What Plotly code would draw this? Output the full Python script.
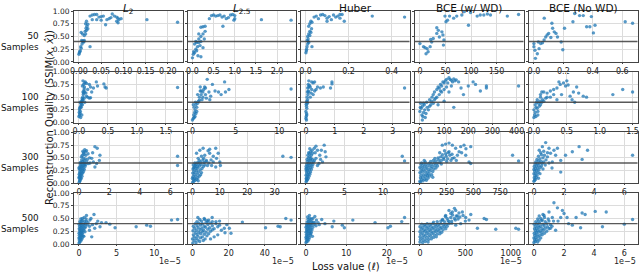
import plotly.graph_objects as go

COLUMNS = ["<i>L</i><sub>2</sub>", "<i>L</i><sub>2.5</sub>", "Huber", "BCE (w/ WD)", "BCE (No WD)"]
ROWS = ["50", "100", "300", "500"]
Y_TICKS = [0, 0.25, 0.5, 0.75, 1.0]
Y_TICKTEXT = ["0.00", "0.25", "0.50", "0.75", "1.00"]
THRESHOLD = 0.4

# ---------------- 50 samples ----------------
L2_50 = [(0.000,0.15),(0.001,0.18),(0.002,0.20),(0.003,0.22),(0.005,0.27),(0.004,0.30),(0.007,0.35),(0.008,0.40),
         (0.009,0.41),(0.010,0.40),(0.012,0.42),(0.006,0.42),(0.011,0.39),(0.005,0.58),(0.008,0.55),(0.012,0.52),
         (0.015,0.55),(0.014,0.60),(0.017,0.62),(0.016,0.66),(0.018,0.70),(0.020,0.65),(0.015,0.75),(0.017,0.80),
         (0.025,0.30),(0.020,0.74),(0.025,0.90),(0.030,0.92),(0.035,0.93),(0.040,0.93),(0.030,0.83),(0.040,0.83),
         (0.045,0.88),(0.050,0.89),(0.055,0.90),(0.050,0.82),(0.060,0.73),(0.063,0.83),(0.068,0.85),(0.072,0.87),
         (0.075,0.94),(0.080,0.90),(0.085,0.88),(0.088,0.86),(0.090,0.83),(0.085,0.80),(0.095,0.85),(0.088,0.77),
         (0.153,0.83),(0.222,0.78)]
L25_50 = [(0.00,0.08),(0.02,0.15),(0.03,0.20),(0.05,0.18),(0.08,0.25),(0.10,0.22),(0.12,0.30),(0.05,0.35),
          (0.10,0.38),(0.15,0.38),(0.20,0.40),(0.08,0.40),(0.18,0.32),(0.25,0.28),(0.20,0.10),(0.13,0.12),
          (0.15,0.55),(0.20,0.50),(0.25,0.55),(0.30,0.60),(0.20,0.68),(0.25,0.69),(0.30,0.70),(0.15,0.45),
          (0.28,0.45),(0.40,0.85),(0.45,0.91),(0.55,0.90),(0.60,0.91),(0.65,0.92),(0.70,0.88),(0.75,0.90),
          (0.80,0.85),(0.85,0.87),(0.90,0.92),(0.95,0.93),(1.00,0.91),(1.00,0.85),(0.98,0.82),(0.72,0.70),
          (1.63,0.83),(2.33,0.82),(0.50,0.92)]
HUBER_50 = [(0.002,0.18),(0.004,0.22),(0.005,0.25),(0.007,0.30),(0.010,0.35),(0.012,0.40),(0.015,0.38),(0.008,0.42),
            (0.010,0.50),(0.015,0.55),(0.020,0.60),(0.025,0.58),(0.020,0.52),(0.030,0.30),(0.015,0.70),(0.020,0.75),
            (0.025,0.80),(0.030,0.78),(0.028,0.65),(0.012,0.45),(0.040,0.88),(0.050,0.90),(0.060,0.85),(0.070,0.92),
            (0.080,0.93),(0.090,0.91),(0.100,0.86),(0.110,0.89),(0.120,0.83),(0.130,0.92),(0.140,0.88),(0.150,0.90),
            (0.160,0.93),(0.170,0.93),(0.180,0.80),(0.100,0.80),(0.310,0.90),(0.460,0.88),(0.160,0.86)]
BCEWD_50 = [(0,0.36),(7,0.30),(14,0.26),(12,0.16),(16,0.20),(20,0.30),(10,0.28),(23,0.39),(21,0.44),(26,0.46),
            (33,0.56),(36,0.62),(33,0.67),(43,0.59),(45,0.53),(46,0.33),(47,0.43),(38,0.49),(51,0.79),(54,0.82),
            (49,0.90),(58,0.90),(66,0.86),(72,0.90),(82,0.92),(87,0.99),(95,0.72),(99,0.97),(112,0.90),(118,0.92),
            (125,0.92),(132,0.94),(138,0.92),(171,0.90),(193,0.93)]
BCENO_50 = [(0.000,0.36),(0.000,0.30),(0.007,0.23),(0.023,0.16),(0.010,0.07),(0.035,0.26),(0.046,0.36),(0.030,0.39),
            (0.058,0.375),(0.069,0.43),(0.080,0.49),(0.090,0.53),(0.100,0.56),(0.115,0.48),(0.127,0.66),(0.138,0.59),
            (0.150,0.56),(0.160,0.49),(0.070,0.86),(0.122,0.76),(0.185,0.39),(0.196,0.24),(0.208,0.66),(0.265,0.79),
            (0.277,0.95),(0.310,0.91),(0.335,0.91),(0.390,0.89),(0.358,0.69),(0.380,0.69),(0.415,0.72),(0.404,0.57),
            (0.620,0.79),(0.670,0.76)]

# ---------------- 100 samples ----------------
L2_100 = [(0.00,0.12),(0.01,0.15),(0.005,0.20),(0.02,0.18),(0.01,0.25),(0.015,0.28),(0.02,0.30),(0.03,0.32),
          (0.025,0.22),(0.04,0.35),(0.035,0.38),(0.045,0.40),(0.05,0.42),(0.06,0.44),(0.055,0.47),(0.065,0.50),
          (0.07,0.45),(0.075,0.55),(0.08,0.58),(0.07,0.60),(0.085,0.62),(0.09,0.66),(0.095,0.70),(0.06,0.72),
          (0.07,0.82),(0.10,0.78),(0.11,0.80),(0.13,0.77),(0.08,0.75),(0.10,0.60),(0.12,0.58),(0.15,0.50),
          (0.18,0.48),(0.20,0.49),(0.13,0.52),(0.09,0.48),(0.05,0.15),(0.03,0.10),(0.04,0.30),(0.06,0.35),
          (0.02,0.40),(0.10,0.40),(0.15,0.65),(0.20,0.70),(0.25,0.68),(0.30,0.80),(0.32,0.72),(0.43,0.76),
          (0.45,0.70),(0.47,0.68),(1.70,0.69),(0.22,0.60),(0.18,0.75)]
L25_100 = [(0.0,0.05),(0.1,0.08),(0.2,0.10),(0.15,0.15),(0.3,0.12),(0.25,0.20),(0.4,0.18),(0.3,0.25),(0.5,0.30),
           (0.4,0.35),(0.6,0.38),(0.2,0.30),(0.5,0.22),(0.7,0.42),(0.1,0.35),(0.35,0.40),(0.8,0.44),(0.8,0.50),
           (1.0,0.55),(1.2,0.60),(1.0,0.62),(1.3,0.65),(0.9,0.70),(1.5,0.55),(1.6,0.48),(1.1,0.45),(1.4,0.70),
           (1.7,0.85),(1.9,0.60),(2.1,0.52),(2.3,0.75),(2.6,0.62),(3.0,0.60),(3.3,0.55),(3.7,0.80),(3.8,0.60),
           (4.2,0.65),(0.6,0.55),(1.2,0.50),(0.9,0.62),(11.35,0.66),(2.0,0.45),(1.5,0.68)]
HUBER_100 = [(0.00,0.08),(0.01,0.12),(0.02,0.18),(0.00,0.22),(0.03,0.28),(0.02,0.32),(0.01,0.36),(0.04,0.40),
             (0.05,0.38),(0.03,0.42),(0.06,0.45),(0.04,0.50),(0.07,0.55),(0.05,0.60),(0.08,0.62),(0.06,0.68),
             (0.10,0.70),(0.08,0.75),(0.12,0.73),(0.15,0.70),(0.10,0.82),(0.20,0.80),(0.25,0.78),(0.30,0.80),
             (0.20,0.65),(0.30,0.62),(0.25,0.55),(0.35,0.65),(0.40,0.70),(0.15,0.50),(0.50,0.68),(0.60,0.70),
             (0.85,0.68),(0.90,0.80),(0.90,0.76),(0.02,0.05),(0.03,0.15),(0.10,0.60),(0.18,0.58),(3.41,0.68)]
BCEWD_100 = [(0,0.22),(5,0.28),(10,0.32),(15,0.20),(20,0.25),(8,0.15),(12,0.12),(25,0.18),(18,0.35),(30,0.30),
             (22,0.10),(3,0.38),(28,0.40),(35,0.25),(40,0.32),(15,0.38),(2,0.30),(10,0.05),(40,0.45),(50,0.50),
             (55,0.55),(60,0.60),(48,0.42),(65,0.48),(70,0.65),(75,0.70),(80,0.68),(85,0.75),(90,0.72),(95,0.80),
             (100,0.78),(105,0.82),(110,0.85),(115,0.78),(120,0.88),(125,0.85),(130,0.83),(135,0.80),(140,0.86),
             (145,0.82),(150,0.84),(160,0.80),(80,0.55),(90,0.60),(100,0.65),(60,0.45),(70,0.50),(110,0.70),
             (120,0.60),(130,0.72),(75,0.35),(100,0.42),(140,0.30),(170,0.68),(180,0.55),(200,0.72),(230,0.75),
             (250,0.62),(275,0.68),(275,0.72),(220,0.80),(408,0.72),(55,0.38),(45,0.35),(85,0.62)]
BCENO_100 = [(0.00,0.10),(0.01,0.15),(0.02,0.20),(0.00,0.25),(0.03,0.30),(0.02,0.35),(0.04,0.40),(0.05,0.28),
             (0.06,0.22),(0.07,0.38),(0.05,0.45),(0.08,0.32),(0.10,0.35),(0.09,0.42),(0.12,0.40),(0.10,0.50),
             (0.13,0.45),(0.15,0.42),(0.18,0.48),(0.20,0.50),(0.03,0.12),(0.06,0.15),(0.10,0.55),(0.12,0.60),
             (0.15,0.60),(0.20,0.58),(0.25,0.62),(0.30,0.65),(0.35,0.68),(0.40,0.75),(0.38,0.80),(0.45,0.78),
             (0.48,0.72),(0.50,0.82),(0.52,0.74),(0.42,0.55),(0.60,0.60),(0.58,0.45),(0.62,0.40),(0.68,0.58),
             (0.75,0.52),(0.80,0.50),(0.65,0.70),(0.55,0.52),(0.30,0.55),(0.35,0.45),(0.25,0.50),(1.20,0.55),
             (1.35,0.65),(1.50,0.60)]

# ---------------- 300 samples ----------------
L2_300 = [(0.02,0.02),(0.05,0.05),(0.10,0.08),(0.03,0.10),(0.08,0.12),(0.15,0.10),(0.05,0.15),(0.12,0.16),
          (0.20,0.14),(0.02,0.18),(0.09,0.20),(0.18,0.19),(0.25,0.20),(0.05,0.22),(0.14,0.24),(0.22,0.25),
          (0.30,0.23),(0.04,0.27),(0.10,0.28),(0.20,0.30),(0.28,0.29),(0.35,0.27),(0.06,0.32),(0.15,0.33),
          (0.24,0.34),(0.32,0.35),(0.40,0.33),(0.10,0.36),(0.20,0.38),(0.30,0.40),(0.38,0.39),(0.45,0.37),
          (0.12,0.41),(0.25,0.43),(0.35,0.45),(0.50,0.42),(0.18,0.46),(0.28,0.50),(0.40,0.48),(0.55,0.47),
          (0.22,0.55),(0.33,0.57),(0.45,0.55),(0.60,0.58),(0.30,0.60),(0.42,0.62),(0.50,0.64),(0.38,0.66),
          (0.26,0.63),(0.16,0.52),(0.08,0.40),(0.00,0.30),(0.01,0.12),(0.07,0.05),(1.05,0.72),(1.20,0.69),
          (1.38,0.55),(1.34,0.45),(0.95,0.42),(0.73,0.40),(0.84,0.49),(1.16,0.39),(1.05,0.32),(0.62,0.39),
          (0.70,0.50),(0.90,0.60),(6.48,0.53),(6.48,0.35)]
L25_300 = [(0.1,0.02),(0.5,0.04),(1.0,0.06),(0.3,0.08),(1.5,0.08),(0.8,0.10),(2.0,0.11),(0.2,0.13),(1.2,0.14),
           (2.5,0.14),(0.6,0.17),(1.8,0.18),(3.0,0.17),(0.1,0.20),(1.0,0.21),(2.2,0.22),(3.3,0.21),(0.5,0.24),
           (1.5,0.25),(2.8,0.26),(0.2,0.28),(1.2,0.29),(2.0,0.30),(3.5,0.29),(0.7,0.32),(1.7,0.33),(2.6,0.34),
           (4.0,0.33),(0.3,0.36),(1.3,0.37),(2.3,0.38),(3.2,0.37),(4.5,0.36),(0.9,0.40),(1.9,0.41),(3.0,0.42),
           (4.2,0.41),(5.0,0.43),(2.5,0.45),(3.8,0.46),(0.5,0.30),(1.0,0.35),(0.0,0.10),(2.1,0.05),(6.0,0.40),
           (5.5,0.35),(2.7,0.65),(3.9,0.69),(5.7,0.64),(6.3,0.67),(6.3,0.59),(7.6,0.53),(8.5,0.69),(9.4,0.59),
           (8.8,0.49),(10.0,0.42),(10.2,0.35),(7.6,0.42),(5.1,0.45),(3.3,0.53),(4.1,0.49),(1.5,0.59),(2.1,0.49),
           (33.0,0.53),(36.0,0.51),(8.5,0.32),(7.0,0.35),(4.5,0.55),(6.8,0.46)]
HUBER_300 = [(0.02,0.03),(0.10,0.05),(0.20,0.07),(0.05,0.10),(0.30,0.10),(0.15,0.13),(0.40,0.14),(0.02,0.16),
             (0.25,0.17),(0.50,0.18),(0.10,0.20),(0.35,0.21),(0.60,0.22),(0.05,0.24),(0.20,0.25),(0.45,0.26),
             (0.70,0.27),(0.12,0.29),(0.30,0.30),(0.55,0.31),(0.80,0.32),(0.02,0.33),(0.20,0.34),(0.40,0.35),
             (0.65,0.36),(0.90,0.37),(0.10,0.38),(0.30,0.39),(0.50,0.40),(0.75,0.41),(1.00,0.42),(0.20,0.43),
             (0.40,0.45),(0.60,0.46),(0.85,0.47),(1.10,0.45),(0.30,0.50),(0.50,0.52),(0.70,0.55),(0.45,0.58),
             (0.60,0.62),(0.35,0.60),(0.80,0.65),(0.50,0.68),(0.25,0.55),(0.15,0.47),(0.00,0.28),(0.08,0.08),
             (1.08,0.69),(1.30,0.73),(1.50,0.65),(1.80,0.55),(2.37,0.75),(2.50,0.62),(2.60,0.52),(2.15,0.42),
             (1.70,0.39),(0.86,0.59),(0.65,0.49),(12.5,0.53),(12.8,0.44),(1.30,0.49),(1.90,0.47),(1.20,0.60),
             (2.00,0.65),(1.50,0.35)]
BCEWD_300 = [(0,0.04),(15,0.07),(30,0.05),(45,0.08),(60,0.06),(5,0.11),(25,0.12),(50,0.13),(75,0.10),(90,0.14),
             (10,0.16),(35,0.17),(60,0.18),(85,0.19),(110,0.17),(0,0.21),(20,0.22),(45,0.23),(70,0.22),(95,0.24),
             (120,0.23),(10,0.26),(30,0.27),(55,0.28),(80,0.27),(105,0.29),(130,0.28),(150,0.30),(0,0.31),(20,0.32),
             (40,0.33),(65,0.32),(90,0.34),(115,0.33),(140,0.35),(165,0.34),(10,0.37),(35,0.38),(60,0.37),(85,0.39),
             (110,0.38),(135,0.40),(160,0.39),(185,0.41),(50,0.42),(100,0.43),(125,0.45),(150,0.44),(175,0.46),
             (200,0.45),(225,0.47),(140,0.49),(170,0.50),(195,0.52),(220,0.50),(245,0.53),(260,0.48),(280,0.55),
             (210,0.56),(240,0.58),(265,0.60),(300,0.57),(185,0.60),(230,0.64),(320,0.50),(290,0.45),(250,0.43),
             (200,0.38),(5,0.02),(70,0.15),(120,0.12),(40,0.45),(15,0.40),(209,0.75),(240,0.77),(272,0.79),
             (303,0.75),(334,0.69),(381,0.72),(412,0.75),(475,0.72),(366,0.62),(428,0.55),(459,0.42),(475,0.39),
             (272,0.62),(303,0.49),(350,0.55),(866,0.55),(922,0.44),(340,0.45),(390,0.60),(430,0.68)]
BCENO_300 = [(0.00,0.04),(0.05,0.06),(0.10,0.08),(0.02,0.11),(0.15,0.12),(0.30,0.10),(0.07,0.15),(0.20,0.16),
             (0.00,0.19),(0.12,0.20),(0.28,0.21),(0.40,0.19),(0.05,0.24),(0.18,0.25),(0.33,0.26),(0.10,0.29),
             (0.25,0.30),(0.42,0.31),(0.02,0.33),(0.15,0.34),(0.30,0.35),(0.50,0.34),(0.08,0.38),(0.22,0.39),
             (0.38,0.40),(0.55,0.39),(0.12,0.42),(0.30,0.44),(0.48,0.43),(0.65,0.42),(0.20,0.47),(0.40,0.48),
             (0.60,0.50),(0.80,0.46),(0.30,0.53),(0.50,0.56),(0.70,0.55),(0.90,0.52),(0.45,0.60),(0.65,0.63),
             (0.35,0.65),(0.00,0.27),(0.60,0.28),(0.75,0.36),(1.00,0.40),(0.90,0.60),(0.78,0.80),(1.00,0.69),
             (1.10,0.59),(1.33,0.65),(1.56,0.69),(1.44,0.55),(1.78,0.45),(2.10,0.55),(2.55,0.62),(3.00,0.72),
             (3.56,0.65),(3.20,0.47),(1.78,0.22),(6.55,0.55),(0.56,0.72),(1.22,0.42),(1.20,0.30)]

# ---------------- 500 samples (x in units of 1e-5) ----------------
L2_500 = [(0.02,0.02),(0.10,0.04),(0.25,0.06),(0.05,0.08),(0.18,0.10),(0.35,0.09),(0.00,0.12),(0.12,0.13),
          (0.28,0.14),(0.45,0.12),(0.06,0.17),(0.20,0.18),(0.38,0.17),(0.55,0.16),(0.02,0.21),(0.15,0.22),
          (0.30,0.23),(0.50,0.22),(0.10,0.26),(0.25,0.27),(0.42,0.26),(0.62,0.27),(0.04,0.30),(0.18,0.31),
          (0.35,0.32),(0.55,0.30),(0.75,0.31),(0.10,0.35),(0.28,0.36),(0.45,0.35),(0.68,0.36),(0.90,0.34),
          (0.02,0.39),(0.20,0.40),(0.38,0.41),(0.60,0.39),(0.85,0.40),(1.10,0.38),(0.12,0.44),(0.30,0.45),
          (0.50,0.46),(0.75,0.44),(1.00,0.45),(0.25,0.49),(0.45,0.50),(0.70,0.52),(0.95,0.49),(1.20,0.42),
          (1.40,0.35),(0.40,0.20),(0.80,0.24),(0.65,0.15),(1.00,0.56),(2.00,0.58),(1.46,0.47),(2.30,0.40),
          (3.00,0.42),(3.60,0.42),(2.80,0.34),(2.10,0.31),(4.10,0.39),(4.80,0.32),(7.60,0.34),(9.00,0.37),
          (9.50,0.35),(12.3,0.47),(13.1,0.48),(1.40,0.27),(1.70,0.14),(1.60,0.50),(2.50,0.45),(1.80,0.38)]
L25_500 = [(0.2,0.02),(2,0.03),(4,0.05),(1,0.07),(3,0.08),(6,0.07),(0,0.10),(2,0.11),(4.5,0.12),(7,0.10),(1,0.14),
           (3,0.15),(5.5,0.14),(8,0.16),(0.5,0.18),(2.5,0.19),(4.5,0.20),(6.5,0.19),(9,0.20),(1.5,0.22),(3.5,0.23),
           (5.5,0.24),(7.5,0.23),(10,0.25),(0.3,0.26),(2.2,0.27),(4.2,0.28),(6.2,0.27),(8.5,0.29),(11,0.28),
           (1.2,0.31),(3.2,0.32),(5.2,0.31),(7.2,0.33),(9.5,0.32),(12,0.30),(0.5,0.35),(2.5,0.36),(4.5,0.37),
           (6.5,0.35),(8.5,0.38),(11,0.36),(14,0.34),(1.5,0.40),(3.5,0.41),(5.5,0.40),(7.5,0.42),(10,0.41),
           (13,0.40),(2.5,0.44),(5,0.45),(8,0.46),(11,0.44),(4,0.48),(6.5,0.50),(9,0.47),(3,0.52),(16,0.27),
           (18,0.22),(14,0.18),(12,0.14),(10,0.10),(10.9,0.52),(13,0.44),(15,0.37),(17.6,0.31),(20.4,0.31),
           (21.3,0.21),(27.6,0.43),(40.4,0.32),(47.3,0.35),(48.5,0.34),(51.6,0.50),(54.5,0.47),(8.5,0.44),
           (6.7,0.48),(15,0.45),(19,0.38)]
HUBER_500 = [(0.02,0.03),(0.20,0.05),(0.50,0.06),(0.10,0.09),(0.35,0.10),(0.70,0.09),(0.00,0.13),(0.25,0.14),
             (0.55,0.15),(0.90,0.13),(0.10,0.18),(0.40,0.19),(0.75,0.20),(1.10,0.18),(0.05,0.23),(0.30,0.24),
             (0.60,0.25),(0.95,0.24),(1.30,0.23),(0.15,0.28),(0.45,0.29),(0.80,0.30),(1.15,0.29),(1.50,0.28),
             (0.02,0.33),(0.30,0.34),(0.60,0.35),(0.95,0.34),(1.30,0.36),(1.70,0.33),(0.15,0.38),(0.45,0.39),
             (0.80,0.40),(1.15,0.39),(1.50,0.41),(2.00,0.38),(0.30,0.43),(0.65,0.44),(1.00,0.45),(1.40,0.44),
             (1.80,0.43),(0.50,0.48),(0.90,0.50),(1.30,0.49),(2.20,0.42),(2.50,0.36),(0.40,0.53),(1.20,0.20),
             (1.60,0.15),(0.86,0.56),(1.70,0.50),(2.60,0.47),(3.90,0.48),(4.70,0.40),(6.90,0.45),(6.50,0.34),
             (9.00,0.37),(9.50,0.32),(11.6,0.47),(17.1,0.42),(20.3,0.32),(20.9,0.35),(23.7,0.44),(24.4,0.52),
             (3.00,0.42),(2.20,0.54),(3.30,0.38)]
BCEWD_500 = [(0,0.04),(30,0.03),(60,0.05),(90,0.04),(5,0.09),(35,0.08),(65,0.10),(95,0.09),(125,0.10),(0,0.14),
             (30,0.13),(60,0.15),(90,0.14),(120,0.15),(150,0.13),(180,0.14),(10,0.19),(40,0.18),(70,0.20),(100,0.19),
             (130,0.20),(160,0.18),(190,0.19),(220,0.20),(0,0.24),(30,0.23),(60,0.25),(90,0.24),(120,0.25),(150,0.23),
             (180,0.24),(210,0.25),(240,0.23),(15,0.29),(45,0.28),(75,0.30),(105,0.29),(135,0.30),(165,0.28),
             (195,0.29),(225,0.30),(255,0.28),(285,0.30),(0,0.34),(30,0.33),(60,0.35),(90,0.34),(120,0.35),
             (150,0.33),(180,0.34),(210,0.35),(240,0.33),(270,0.34),(300,0.35),(20,0.39),(50,0.38),(80,0.40),
             (110,0.39),(140,0.40),(170,0.38),(200,0.39),(230,0.40),(260,0.38),(290,0.39),(320,0.40),(350,0.41),
             (150,0.43),(190,0.44),(230,0.45),(270,0.44),(310,0.46),(350,0.45),(390,0.47),(250,0.48),(300,0.50),
             (340,0.52),(380,0.50),(420,0.49),(280,0.54),(360,0.57),(400,0.55),(440,0.53),(320,0.66),(357,0.63),
             (394,0.66),(430,0.61),(467,0.63),(283,0.56),(412,0.55),(504,0.52),(541,0.47),(475,0.56),(707,0.50),
             (732,0.48),(633,0.31),(835,0.29),(1056,0.31),(1086,0.29),(247,0.47),(320,0.44),(449,0.40),(394,0.37),
             (380,0.70),(340,0.60),(500,0.45),(560,0.58)]
BCENO_500 = [(0.00,0.03),(0.10,0.05),(0.25,0.04),(0.05,0.08),(0.18,0.09),(0.35,0.08),(0.00,0.12),(0.12,0.13),
             (0.28,0.14),(0.45,0.12),(0.06,0.17),(0.20,0.18),(0.38,0.17),(0.55,0.18),(0.02,0.21),(0.15,0.22),
             (0.30,0.23),(0.50,0.22),(0.70,0.21),(0.10,0.26),(0.25,0.27),(0.42,0.26),(0.62,0.27),(0.85,0.25),
             (0.04,0.30),(0.18,0.31),(0.35,0.32),(0.55,0.30),(0.75,0.31),(1.00,0.30),(0.10,0.35),(0.28,0.36),
             (0.45,0.35),(0.68,0.36),(0.90,0.34),(0.02,0.39),(0.20,0.40),(0.38,0.41),(0.60,0.39),(0.85,0.40),
             (1.10,0.38),(0.12,0.44),(0.30,0.45),(0.50,0.46),(0.75,0.44),(1.00,0.45),(0.25,0.49),(0.45,0.50),
             (0.70,0.52),(0.95,0.49),(1.30,0.45),(1.20,0.35),(0.35,0.55),(0.60,0.58),(1.33,0.81),(1.56,0.71),
             (1.89,0.66),(1.00,0.63),(0.67,0.56),(0.56,0.47),(1.22,0.52),(1.78,0.52),(2.20,0.52),(2.80,0.52),
             (3.20,0.61),(3.40,0.58),(4.07,0.64),(4.80,0.63),(2.30,0.40),(3.10,0.32),(4.55,0.34),(6.00,0.39),
             (6.55,0.48),(1.44,0.27),(1.10,0.31),(2.55,0.37),(1.60,0.45),(2.00,0.60)]

PANELS = [
    [L2_50, L25_50, HUBER_50, BCEWD_50, BCENO_50],
    [L2_100, L25_100, HUBER_100, BCEWD_100, BCENO_100],
    [L2_300, L25_300, HUBER_300, BCEWD_300, BCENO_300],
    [L2_500, L25_500, HUBER_500, BCEWD_500, BCENO_500],
]

X_TICKS = [
    [[0, 0.05, 0.10, 0.15, 0.20], [0, 0.5, 1.0, 1.5, 2.0], [0, 0.2, 0.4], [0, 50, 100, 150], [0, 0.2, 0.4, 0.6]],
    [[0, 0.5, 1.0, 1.5], [0, 5, 10], [0, 1, 2, 3], [0, 100, 200, 300, 400], [0, 0.5, 1.0, 1.5]],
    [[0, 2, 4, 6], [0, 10, 20, 30], [0, 5, 10], [0, 250, 500, 750], [0, 2, 4, 6]],
    [[0, 5, 10], [0, 20, 40], [0, 10, 20], [0, 500, 1000], [0, 2, 4, 6]],
]
X_TICK_DECIMALS = [[2, 1, 1, 0, 1], [1, 0, 0, 0, 1], [0, 0, 0, 0, 0], [0, 0, 0, 0, 0]]
OFFSET_TEXT = ["", "", "", "1e\u22125"]

# ---------------- layout geometry (pixels) ----------------
W, H = 640, 272
COL_LEFT = [74, 187.5, 301, 415, 529]
COL_W = 108.5
ROW_TOP = [11, 71.7, 132.4, 193.1]
ROW_H = 50.9

BLUE = "#1f77b4"
FONT = "DejaVu Sans"

fig = go.Figure()
shapes = []
annotations = []

for r in range(4):
    for c in range(5):
        k = r * 5 + c + 1
        sfx = "" if k == 1 else str(k)
        pts = PANELS[r][c]
        xs = [p[0] for p in pts]
        ys = [p[1] for p in pts]
        fig.add_trace(go.Scatter(
            x=xs, y=ys, mode="markers", xaxis="x" + sfx, yaxis="y" + sfx,
            marker=dict(size=3.4, color=BLUE, opacity=0.75, line=dict(width=0)),
            showlegend=False, hoverinfo="skip"))
        lo, hi = min(xs), max(xs)
        pad = 0.05 * (hi - lo)
        dec = X_TICK_DECIMALS[r][c]
        tv = X_TICKS[r][c]
        x0 = COL_LEFT[c] / W
        x1 = (COL_LEFT[c] + COL_W) / W
        y1 = 1 - ROW_TOP[r] / H
        y0 = 1 - (ROW_TOP[r] + ROW_H) / H
        fig.layout["xaxis" + sfx] = dict(
            domain=[x0, x1], anchor="y" + sfx, range=[lo - pad, hi + pad],
            tickvals=tv, ticktext=[f"{v:.{dec}f}" for v in tv],
            showgrid=True, gridcolor="#dcdcdc", gridwidth=1, zeroline=False,
            showline=True, linecolor="#444444", linewidth=1, mirror=True,
            ticks="outside", ticklen=1, tickcolor="#444444", automargin=False,
            tickfont=dict(family=FONT, size=8, color="#222222"))
        fig.layout["yaxis" + sfx] = dict(
            domain=[y0, y1], anchor="x" + sfx, range=[0, 1],
            tickvals=Y_TICKS, ticktext=Y_TICKTEXT, showticklabels=(c == 0),
            showgrid=True, gridcolor="#dcdcdc", gridwidth=1, zeroline=False,
            showline=True, linecolor="#444444", linewidth=1, mirror=True,
            ticks="outside", ticklen=2, tickcolor="#444444", automargin=False,
            tickfont=dict(family=FONT, size=7.5, color="#222222"))
        shapes.append(dict(type="line", xref="x" + sfx + " domain", yref="y" + sfx,
                           x0=0, x1=1, y0=THRESHOLD, y1=THRESHOLD,
                           line=dict(color="rgba(60,60,60,0.85)", width=1.4), layer="above"))
        if OFFSET_TEXT[r]:
            annotations.append(dict(text=OFFSET_TEXT[r], xref="paper", yref="paper",
                                    x=x1, y=1 - 261 / H, xanchor="right", yanchor="middle",
                                    showarrow=False, font=dict(family=FONT, size=8, color="#222222")))

# column titles
for c, t in enumerate(COLUMNS):
    annotations.append(dict(text=t, xref="paper", yref="paper",
                            x=(COL_LEFT[c] + COL_W / 2) / W, y=1.0,
                            xanchor="center", yanchor="top", showarrow=False,
                            font=dict(family=FONT, size=10.5, color="#111111")))
# row labels
for r, t in enumerate(ROWS):
    annotations.append(dict(text=t + "<br>Samples", xref="paper", yref="paper",
                            x=40.5 / W, y=1 - (ROW_TOP[r] + ROW_H / 2 + 5) / H,
                            xanchor="right", yanchor="middle", align="right", showarrow=False,
                            font=dict(family=FONT, size=8.8, color="#111111")))
# axis titles
annotations.append(dict(text="Reconstruction Quality (SSIM(<i>x</i>, <i>x\u0302</i>))",
                        xref="paper", yref="paper", x=49 / W, y=1 - 118 / H,
                        xanchor="center", yanchor="middle", textangle=-90, showarrow=False,
                        font=dict(family=FONT, size=10, color="#111111")))
annotations.append(dict(text="Loss value (<i>\u2113</i>)", xref="paper", yref="paper",
                        x=346 / W, y=1 - 266 / H, xanchor="center", yanchor="middle",
                        showarrow=False, font=dict(family=FONT, size=10, color="#111111")))

fig.update_layout(width=W, height=H, margin=dict(l=0, r=0, t=0, b=0, autoexpand=False),
                  paper_bgcolor="white", plot_bgcolor="white",
                  shapes=shapes, annotations=annotations)

fig.write_html("out.html", config={"displayModeBar": False},
               post_script="document.body.style.margin='0px';")
